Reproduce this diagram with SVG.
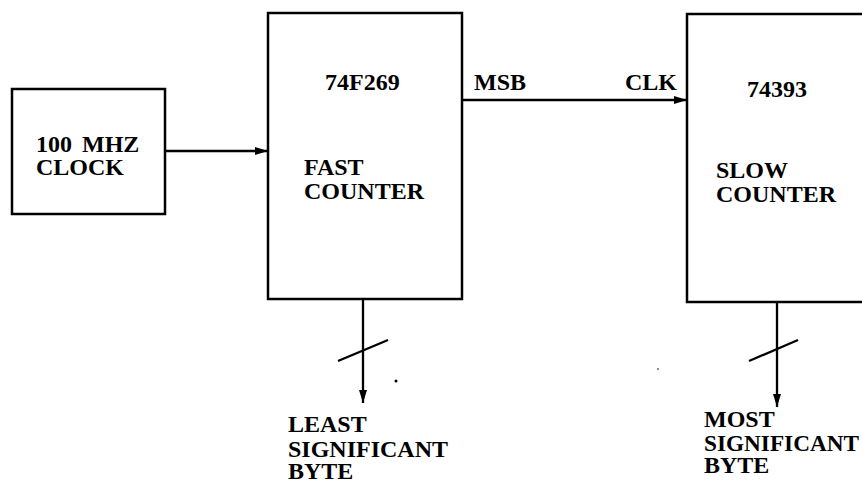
<svg xmlns="http://www.w3.org/2000/svg" width="862" height="483" viewBox="0 0 862 483">
<style>
.box{fill:#fff;stroke:#000;stroke-width:2.5}
.ln{fill:none;stroke:#000;stroke-width:2.3}
.t{font-family:"Liberation Serif","Times New Roman",serif;font-weight:bold;font-size:24px;fill:#000}
</style>
<defs>
<marker id="ah" markerUnits="userSpaceOnUse" markerWidth="14" markerHeight="10" refX="13" refY="4.5" orient="auto">
<path d="M0,0.5 L13,4.5 L0,8.5 z" fill="#000"/>
</marker>
</defs>
<rect width="862" height="483" fill="#fff"/>
<g id="connectors">
<line class="ln" x1="165" y1="151" x2="268" y2="151" marker-end="url(#ah)"/>
<line class="ln" x1="462" y1="100" x2="687" y2="100" marker-end="url(#ah)"/>
<line class="ln" x1="363" y1="299" x2="363" y2="403" marker-end="url(#ah)"/>
<line class="ln" x1="338" y1="361" x2="388" y2="340"/>
<line class="ln" x1="777" y1="302" x2="777" y2="407" marker-end="url(#ah)"/>
<line class="ln" x1="749" y1="361" x2="798" y2="340"/>
<text class="t" x="474" y="90">MSB</text>
<text class="t" x="677" y="90" text-anchor="end">CLK</text>
</g>
<g id="clock">
<rect class="box" x="12" y="89" width="153" height="125"/>
<text class="t" x="36" y="152">100 <tspan dx="4">MHZ</tspan></text>
<text class="t" x="36" y="175">CLOCK</text>
</g>
<g id="fast-counter">
<rect class="box" x="268" y="13" width="194" height="286"/>
<text class="t" x="325" y="90">74F269</text>
<text class="t" x="304" y="175">FAST</text>
<text class="t" x="304" y="199">COUNTER</text>
</g>
<g id="slow-counter">
<rect class="box" x="687" y="14" width="190" height="288"/>
<text class="t" x="747" y="97">74393</text>
<text class="t" x="716" y="178">SLOW</text>
<text class="t" x="716" y="202">COUNTER</text>
</g>
<g id="lsb-label">
<text class="t" x="288" y="432">LEAST</text>
<text class="t" x="288" y="457">SIGNIFICANT</text>
<text class="t" x="288" y="479">BYTE</text>
</g>
<g id="msb-label">
<text class="t" x="704" y="427">MOST</text>
<text class="t" x="704" y="451" textLength="155" lengthAdjust="spacingAndGlyphs">SIGNIFICANT</text>
<text class="t" x="704" y="473">BYTE</text>
</g>
<circle cx="396" cy="381" r="1.5" fill="#000"/>
<circle cx="658" cy="369" r="0.8" fill="#000"/>
</svg>
